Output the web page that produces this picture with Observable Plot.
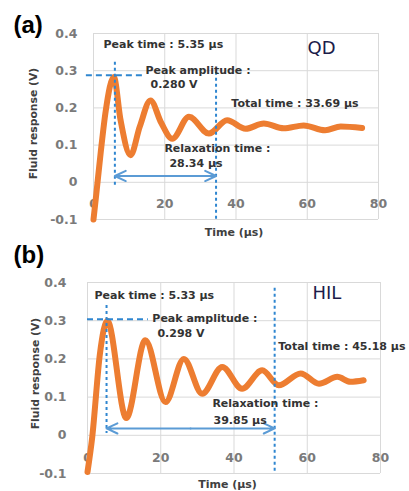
<!DOCTYPE html>
<html><head><meta charset="utf-8">
<script src="https://cdn.jsdelivr.net/npm/d3@7"></script>
<script src="https://cdn.jsdelivr.net/npm/@observablehq/plot@0.6"></script>
<style>
body{margin:0;background:#fff;}
#wrap{width:409px;height:491px;overflow:hidden;background:#fff;}
#wrap svg{display:block;}
</style></head><body><div id="wrap"></div>
<script>
// ---- data ----
const xTicks = [0, 20, 40, 60, 80];
const yTicks = [-0.1, 0, 0.1, 0.2, 0.3, 0.4];

// (a) QD fluid response
const qdTime     = [0, 0.8, 2.0, 3.4, 5.7, 7.6, 10.4, 13.0, 16.0, 19.0, 22.1, 26.8, 32.4, 37.5, 42.7, 47.8, 53.4, 59.0, 65.0, 69.4, 75.4];
const qdResponse = [-0.1, -0.03, 0.078, 0.19, 0.283, 0.167, 0.073, 0.15, 0.22, 0.16, 0.117, 0.176, 0.131, 0.167, 0.144, 0.158, 0.145, 0.153, 0.14, 0.15, 0.146];

// (b) HIL fluid response
const hilTime     = [0, 1.3, 3.4, 5.4, 10.6, 15.8, 21.3, 26.3, 31.3, 36.8, 42.2, 47.7, 52.2, 58.2, 63.2, 68.2, 71.8, 75.4];
const hilResponse = [-0.096, -0.004, 0.214, 0.3, 0.045, 0.249, 0.087, 0.2, 0.109, 0.179, 0.122, 0.17, 0.131, 0.162, 0.135, 0.153, 0.14, 0.144];

// guide lines (data coordinates)
const qdPeakLine   = [{y: 0.288, x1: -2, x2: 14.0}];
const qdVLines     = [{x: 6.0, y1: 0.323, y2: -0.01}, {x: 34.4, y1: 0.296, y2: -0.1}];
const qdSpan       = [6.0, 34.4, 0.017];
const hilPeakLine  = [{y: 0.304, x1: 0, x2: 16.6}];
const hilVLines    = [{x: 5.2, y1: 0.34, y2: 0.005}, {x: 51.1, y1: 0.385, y2: -0.1}];
const hilSpan      = [5.2, 51.1, 0.018];

// annotations
const qdLabels  = ["Peak time : 5.35 µs", "Peak amplitude :", "0.280 V", "Total time : 33.69 µs", "Relaxation time :", "28.34 µs"];
const qdLabelX  = [2.8, 14.6, 16.0, 38.7, 19.9, 21.3];
const qdLabelY  = [0.371, 0.301, 0.263, 0.212, 0.091, 0.051];
const hilLabels = ["Peak time : 5.33 µs", "Peak amplitude :", "0.298 V", "Total time : 45.18 µs", "Relaxation time :", "39.85 µs"];
const hilLabelX = [1.9, 17.7, 19.1, 52.1, 34.1, 34.4];
const hilLabelY = [0.366, 0.306, 0.267, 0.233, 0.084, 0.039];

// ---- drawing ----
function panel(cfg) {
  const pts = cfg.time.map((t, i) => ({t, v: cfg.resp[i]}));
  const notes = cfg.labels.map((s, i) => ({s, x: cfg.lx[i], y: cfg.ly[i]}));
  const [sx1, sx2, sy] = cfg.span;
  const mid = (sx1 + sx2) / 2;
  const arrows = [{x1: mid, x2: sx1, y: sy}, {x1: mid, x2: sx2, y: sy}];
  return Plot.plot({
    width: 409, height: cfg.height,
    marginTop: cfg.mt, marginBottom: cfg.mb, marginLeft: cfg.ml, marginRight: cfg.mr,
    x: {domain: [0, 80], axis: null},
    y: {domain: [-0.1, 0.4], axis: null},
    style: {fontFamily: "DejaVu Sans", background: "#fff", overflow: "visible"},
    marks: [
      Plot.gridX({ticks: xTicks, stroke: "#d9d9d9", strokeOpacity: 1}),
      Plot.gridY({ticks: yTicks, stroke: "#d9d9d9", strokeOpacity: 1}),
      Plot.axisY({ticks: yTicks, tickSize: 0, tickPadding: cfg.tp, label: null,
        tickFormat: d => d === 0 ? "0" : String(d),
        fontSize: 12.5, fontWeight: "bold", fill: "#7a7a7a"}),
      Plot.text(xTicks, {x: d => d, y: d => 0, dy: cfg.xdy, text: d => String(d),
        fontSize: 12.5, fontWeight: "bold", fill: "#7a7a7a"}),
      Plot.text(["Fluid response (V)"], {frameAnchor: "left", rotate: -90, dx: cfg.ydx, dy: cfg.ydy,
        textAnchor: "middle", lineAnchor: "middle",
        fontSize: 10.8, fontWeight: "bold", fill: "#404040"}),
      Plot.text(["Time (µs)"], {frameAnchor: "bottom", dx: cfg.tdx, dy: cfg.tdy,
        textAnchor: "middle", lineAnchor: "middle",
        fontSize: 11, fontWeight: "bold", fill: "#404040"}),
      Plot.line(pts, {x: "t", y: "v", stroke: "#ed7d31", strokeWidth: 6, curve: "monotone-x",
        strokeLinecap: "round", strokeLinejoin: "round"}),
      Plot.ruleY(cfg.hline, {y: "y", x1: "x1", x2: "x2", stroke: "#2f86d0", strokeWidth: 2, strokeDasharray: "6,4"}),
      Plot.ruleX(cfg.vlines, {x: "x", y1: "y1", y2: "y2", stroke: "#2f86d0", strokeWidth: 2, strokeDasharray: "3,3"}),
      Plot.arrow(arrows, {x1: "x1", x2: "x2", y1: "y", y2: "y", stroke: "#5b9bd5", strokeWidth: 2,
        headLength: 9, headAngle: 50}),
      Plot.text(notes, {x: "x", y: "y", text: "s", textAnchor: "start", lineAnchor: "middle",
        fontSize: 11, fontWeight: "bold", fill: "#333"}),
      Plot.text([cfg.name], {x: d => cfg.nameX, y: d => cfg.nameY, textAnchor: "start", lineAnchor: "middle",
        fontSize: 18, fill: "#1c1c4a"}),
      Plot.text([cfg.letter], {frameAnchor: "top-left", dx: cfg.ldx, dy: cfg.ldy, textAnchor: "start", lineAnchor: "middle",
        fontFamily: "Liberation Sans", fontWeight: "bold", fontSize: 24, fill: "#000"})
    ]
  });
}

const wrap = document.getElementById("wrap");
wrap.appendChild(panel({
  time: qdTime, resp: qdResponse, labels: qdLabels, lx: qdLabelX, ly: qdLabelY,
  hline: qdPeakLine, vlines: qdVLines, span: qdSpan,
  name: "QD", nameX: 60.1, nameY: 0.36, letter: "(a)",
  height: 240, mt: 33, mb: 21, ml: 93, mr: 31, tp: 16, xdy: 22,
  ydx: -60, ydy: -3, tdx: -2, tdy: 13, ldx: -80, ldy: -8
}));
wrap.appendChild(panel({
  time: hilTime, resp: hilResponse, labels: hilLabels, lx: hilLabelX, ly: hilLabelY,
  hline: hilPeakLine, vlines: hilVLines, span: hilSpan,
  name: "HIL", nameX: 61.4, nameY: 0.372, letter: "(b)",
  height: 251, mt: 42, mb: 18, ml: 87, mr: 29, tp: 21, xdy: 23,
  ydx: -52, ydy: -4.5, tdx: -6.5, tdy: 10.5, ldx: -74, ldy: -27
}));
</script>
</body></html>
